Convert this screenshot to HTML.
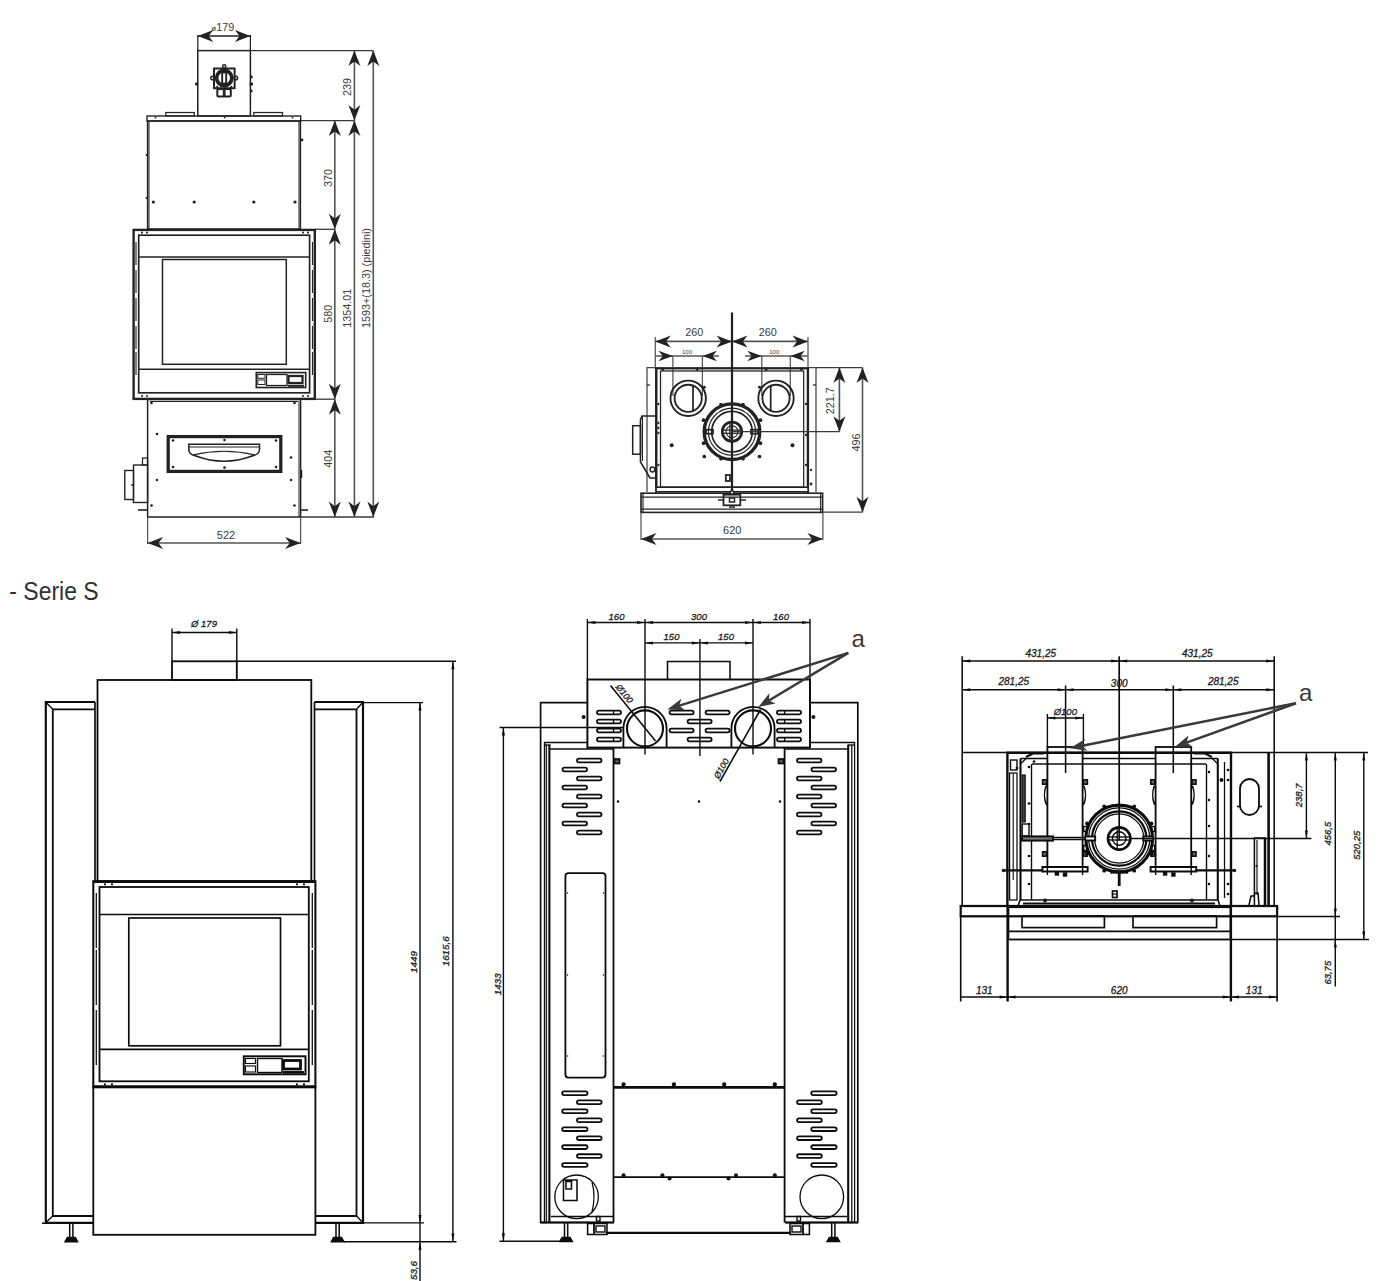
<!DOCTYPE html>
<html><head><meta charset="utf-8"><title>Serie S</title>
<style>
html,body{margin:0;padding:0;background:#fff;}
body{width:1400px;height:1281px;overflow:hidden;position:relative;font-family:"Liberation Sans",sans-serif;}
svg{position:absolute;left:0;top:0;display:block;}
</style></head><body>
<svg width="1400" height="1281" viewBox="0 0 1400 1281">
<rect x="0" y="0" width="1400" height="1281" fill="#ffffff"/>
<rect x="197.80" y="50.60" width="52.60" height="65.40" rx="0" fill="none" stroke="#222" stroke-width="1.5"/>
<line x1="197.80" y1="35.00" x2="197.80" y2="50.60" stroke="#222" stroke-width="1.25" />
<line x1="250.40" y1="35.00" x2="250.40" y2="50.60" stroke="#222" stroke-width="1.25" />
<line x1="197.80" y1="36.00" x2="250.40" y2="36.00" stroke="#222" stroke-width="1.5" />
<polygon points="197.80,36.00 213.30,30.00 208.65,36.00 213.30,42.00" fill="#222"/>
<polygon points="250.40,36.00 234.90,42.00 239.55,36.00 234.90,30.00" fill="#222"/>
<text x="222.80" y="30.50" font-family="'Liberation Sans', sans-serif" font-size="10.8" fill="#3a3a3a" text-anchor="middle" ><tspan font-size="8">ø</tspan>179</text>
<rect x="214.00" y="68.50" width="20.60" height="19.70" rx="0" fill="none" stroke="#222" stroke-width="2.0"/>
<circle cx="224.20" cy="78.00" r="7.60" fill="none" stroke="#222" stroke-width="3.62"/>
<rect x="222.20" y="72.50" width="4.00" height="11.00" rx="0" fill="none" stroke="#222" stroke-width="1.88"/>
<circle cx="224.20" cy="66.30" r="1.60" fill="none" stroke="#222" stroke-width="1.5"/>
<circle cx="212.60" cy="78.00" r="1.80" fill="none" stroke="#222" stroke-width="1.5"/>
<circle cx="235.80" cy="78.00" r="1.80" fill="none" stroke="#222" stroke-width="1.5"/>
<rect x="217.30" y="89.00" width="13.50" height="7.60" rx="1.5" fill="none" stroke="#222" stroke-width="2.0"/>
<line x1="224.20" y1="88.20" x2="224.20" y2="96.60" stroke="#222" stroke-width="2.75" />
<path d="M216.5,86 L219.5,90 M231.9,86 L228.9,90" fill="none" stroke="#222" stroke-width="1.5" />
<circle cx="196.60" cy="84.00" r="1.72" fill="#222"/>
<circle cx="251.30" cy="77.00" r="1.49" fill="#222"/>
<circle cx="251.30" cy="84.00" r="1.84" fill="#222"/>
<circle cx="251.30" cy="91.00" r="1.38" fill="#222"/>
<line x1="250.40" y1="50.60" x2="373.30" y2="50.60" stroke="#3a3a3a" stroke-width="1.31" />
<line x1="300.70" y1="120.60" x2="354.40" y2="120.60" stroke="#3a3a3a" stroke-width="1.31" />
<line x1="315.00" y1="229.30" x2="334.80" y2="229.30" stroke="#3a3a3a" stroke-width="1.31" />
<line x1="315.00" y1="399.20" x2="334.80" y2="399.20" stroke="#3a3a3a" stroke-width="1.31" />
<line x1="300.70" y1="517.00" x2="374.00" y2="517.00" stroke="#3a3a3a" stroke-width="1.31" />
<rect x="147.00" y="116.00" width="153.70" height="5.00" rx="0" fill="none" stroke="#222" stroke-width="1.38"/>
<rect x="147.60" y="121.00" width="152.80" height="108.00" rx="0" fill="none" stroke="#222" stroke-width="1.5"/>
<line x1="149.00" y1="121.00" x2="149.00" y2="229.00" stroke="#222" stroke-width="1.0" />
<line x1="299.00" y1="121.00" x2="299.00" y2="229.00" stroke="#222" stroke-width="1.0" />
<rect x="165.80" y="112.50" width="28.50" height="3.50" rx="0" fill="none" stroke="#222" stroke-width="1.25"/>
<rect x="253.80" y="112.50" width="28.70" height="3.50" rx="0" fill="none" stroke="#222" stroke-width="1.25"/>
<circle cx="153.30" cy="202.00" r="1.61" fill="#222"/>
<circle cx="194.20" cy="202.00" r="1.61" fill="#222"/>
<circle cx="253.80" cy="202.00" r="1.61" fill="#222"/>
<circle cx="295.00" cy="202.00" r="1.61" fill="#222"/>
<circle cx="155.50" cy="117.60" r="0.92" fill="#222"/>
<circle cx="224.60" cy="117.60" r="0.92" fill="#222"/>
<circle cx="292.50" cy="117.60" r="0.92" fill="#222"/>
<circle cx="302.00" cy="140.00" r="1.38" fill="#222"/>
<circle cx="146.50" cy="155.00" r="0.92" fill="#222"/>
<circle cx="146.50" cy="198.00" r="0.92" fill="#222"/>
<rect x="133.60" y="229.90" width="181.20" height="169.00" rx="0" fill="none" stroke="#222" stroke-width="2.38"/>
<rect x="138.70" y="235.20" width="170.90" height="157.60" rx="0" fill="none" stroke="#222" stroke-width="1.69"/>
<line x1="138.80" y1="257.00" x2="309.50" y2="257.00" stroke="#222" stroke-width="1.38" />
<rect x="162.50" y="259.50" width="123.80" height="104.80" rx="0" fill="none" stroke="#222" stroke-width="1.5"/>
<line x1="138.80" y1="369.30" x2="309.50" y2="369.30" stroke="#222" stroke-width="1.38" />
<line x1="136.00" y1="242.00" x2="136.00" y2="265.00" stroke="#222" stroke-width="1.12" />
<line x1="312.50" y1="242.00" x2="312.50" y2="265.00" stroke="#222" stroke-width="1.12" />
<line x1="136.00" y1="270.00" x2="136.00" y2="293.00" stroke="#222" stroke-width="1.12" />
<line x1="312.50" y1="270.00" x2="312.50" y2="293.00" stroke="#222" stroke-width="1.12" />
<line x1="136.00" y1="298.00" x2="136.00" y2="321.00" stroke="#222" stroke-width="1.12" />
<line x1="312.50" y1="298.00" x2="312.50" y2="321.00" stroke="#222" stroke-width="1.12" />
<line x1="136.00" y1="326.00" x2="136.00" y2="349.00" stroke="#222" stroke-width="1.12" />
<line x1="312.50" y1="326.00" x2="312.50" y2="349.00" stroke="#222" stroke-width="1.12" />
<line x1="136.00" y1="352.00" x2="136.00" y2="375.00" stroke="#222" stroke-width="1.12" />
<line x1="312.50" y1="352.00" x2="312.50" y2="375.00" stroke="#222" stroke-width="1.12" />
<circle cx="142.00" cy="232.60" r="1.03" fill="#222"/>
<circle cx="142.00" cy="396.00" r="1.03" fill="#222"/>
<circle cx="147.00" cy="232.60" r="1.03" fill="#222"/>
<circle cx="147.00" cy="396.00" r="1.03" fill="#222"/>
<circle cx="303.00" cy="232.60" r="1.03" fill="#222"/>
<circle cx="303.00" cy="396.00" r="1.03" fill="#222"/>
<circle cx="308.00" cy="232.60" r="1.03" fill="#222"/>
<circle cx="308.00" cy="396.00" r="1.03" fill="#222"/>
<rect x="256.30" y="372.60" width="49.40" height="14.90" rx="0" fill="none" stroke="#222" stroke-width="1.62"/>
<rect x="266.50" y="374.50" width="20.50" height="11.00" rx="0" fill="none" stroke="#222" stroke-width="1.25"/>
<rect x="288.50" y="376.00" width="14.00" height="7.00" rx="0" fill="none" stroke="#222" stroke-width="2.25"/>
<line x1="288.00" y1="385.80" x2="304.00" y2="385.80" stroke="#222" stroke-width="2.0" />
<rect x="257.80" y="374.50" width="7.20" height="3.80" rx="0" fill="none" stroke="#222" stroke-width="1.0"/>
<rect x="257.80" y="380.00" width="7.20" height="4.50" rx="0" fill="none" stroke="#222" stroke-width="1.0"/>
<rect x="147.60" y="399.50" width="153.00" height="117.50" rx="0" fill="none" stroke="#222" stroke-width="1.5"/>
<line x1="150.00" y1="401.50" x2="298.00" y2="401.50" stroke="#222" stroke-width="1.0" />
<line x1="299.00" y1="401.00" x2="299.00" y2="517.00" stroke="#222" stroke-width="1.0" />
<rect x="168.20" y="436.60" width="112.60" height="34.80" rx="0" fill="none" stroke="#222" stroke-width="3.25"/>
<path d="M188.8,444.3 H259.5 V450 Q259,454.5 252,456 Q224,466.5 196,456 Q189,454.5 188.8,450 Z" fill="none" stroke="#222" stroke-width="1.5" />
<line x1="188.80" y1="447.00" x2="259.50" y2="447.00" stroke="#222" stroke-width="1.12" />
<path d="M193,455 Q224,447.5 255,455" fill="none" stroke="#222" stroke-width="1.12" />
<circle cx="157.00" cy="434.00" r="1.32" fill="#222"/>
<circle cx="157.00" cy="480.00" r="1.32" fill="#222"/>
<circle cx="291.00" cy="457.50" r="1.32" fill="#222"/>
<circle cx="291.00" cy="480.00" r="1.32" fill="#222"/>
<circle cx="151.50" cy="403.00" r="1.32" fill="#222"/>
<circle cx="151.50" cy="505.50" r="1.32" fill="#222"/>
<circle cx="294.50" cy="403.00" r="1.32" fill="#222"/>
<circle cx="294.50" cy="505.50" r="1.32" fill="#222"/>
<circle cx="173.00" cy="440.50" r="1.32" fill="#222"/>
<circle cx="173.00" cy="467.00" r="1.32" fill="#222"/>
<circle cx="276.00" cy="440.50" r="1.32" fill="#222"/>
<circle cx="276.00" cy="467.00" r="1.32" fill="#222"/>
<circle cx="224.50" cy="440.00" r="1.32" fill="#222"/>
<circle cx="224.50" cy="467.60" r="1.32" fill="#222"/>
<rect x="124.80" y="470.50" width="8.70" height="29.00" rx="0" fill="none" stroke="#222" stroke-width="1.38"/>
<rect x="133.50" y="465.00" width="14.10" height="37.50" rx="0" fill="none" stroke="#222" stroke-width="1.38"/>
<rect x="142.50" y="458.00" width="5.10" height="7.00" rx="0" fill="none" stroke="#222" stroke-width="1.25"/>
<circle cx="132.00" cy="485.00" r="0.92" fill="#222"/>
<line x1="138.00" y1="510.00" x2="147.60" y2="510.00" stroke="#222" stroke-width="1.62" />
<line x1="300.60" y1="510.00" x2="308.00" y2="510.00" stroke="#222" stroke-width="1.62" />
<line x1="301.50" y1="470.00" x2="301.50" y2="478.00" stroke="#222" stroke-width="1.5" />
<line x1="334.80" y1="229.30" x2="334.80" y2="399.20" stroke="#555" stroke-width="1.62" />
<polygon points="334.80,229.30 340.80,244.80 334.80,240.15 328.80,244.80" fill="#222"/>
<polygon points="334.80,399.20 328.80,383.70 334.80,388.35 340.80,383.70" fill="#222"/>
<line x1="334.80" y1="399.20" x2="334.80" y2="517.00" stroke="#555" stroke-width="1.62" />
<polygon points="334.80,399.20 340.80,414.70 334.80,410.05 328.80,414.70" fill="#222"/>
<polygon points="334.80,517.00 328.80,501.50 334.80,506.15 340.80,501.50" fill="#222"/>
<line x1="334.80" y1="120.60" x2="334.80" y2="229.30" stroke="#555" stroke-width="1.62" />
<polygon points="334.80,120.60 340.80,136.10 334.80,131.45 328.80,136.10" fill="#222"/>
<polygon points="334.80,229.30 328.80,213.80 334.80,218.45 340.80,213.80" fill="#222"/>
<line x1="354.40" y1="50.60" x2="354.40" y2="120.60" stroke="#555" stroke-width="1.62" />
<polygon points="354.40,50.60 360.40,66.10 354.40,61.45 348.40,66.10" fill="#222"/>
<polygon points="354.40,120.60 348.40,105.10 354.40,109.75 360.40,105.10" fill="#222"/>
<line x1="354.40" y1="120.60" x2="354.40" y2="517.00" stroke="#555" stroke-width="1.62" />
<polygon points="354.40,120.60 360.40,136.10 354.40,131.45 348.40,136.10" fill="#222"/>
<polygon points="354.40,517.00 348.40,501.50 354.40,506.15 360.40,501.50" fill="#222"/>
<line x1="373.30" y1="50.60" x2="373.30" y2="517.00" stroke="#555" stroke-width="1.62" />
<polygon points="373.30,50.60 379.30,66.10 373.30,61.45 367.30,66.10" fill="#222"/>
<polygon points="373.30,517.00 367.30,501.50 373.30,506.15 379.30,501.50" fill="#222"/>
<text x="351.30" y="87.00" font-family="'Liberation Sans', sans-serif" font-size="10.8" fill="#3a3a3a" text-anchor="middle" transform="rotate(-90 351.30 87.00)" >239</text>
<text x="331.60" y="178.00" font-family="'Liberation Sans', sans-serif" font-size="10.8" fill="#3a3a3a" text-anchor="middle" transform="rotate(-90 331.60 178.00)" >370</text>
<text x="331.60" y="313.80" font-family="'Liberation Sans', sans-serif" font-size="10.8" fill="#3a3a3a" text-anchor="middle" transform="rotate(-90 331.60 313.80)" >580</text>
<text x="331.60" y="458.80" font-family="'Liberation Sans', sans-serif" font-size="10.8" fill="#3a3a3a" text-anchor="middle" transform="rotate(-90 331.60 458.80)" >404</text>
<text x="351.30" y="308.20" font-family="'Liberation Sans', sans-serif" font-size="10.8" fill="#3a3a3a" text-anchor="middle" transform="rotate(-90 351.30 308.20)" >1354.01</text>
<text x="369.80" y="278.00" font-family="'Liberation Sans', sans-serif" font-size="10.8" fill="#3a3a3a" text-anchor="middle" transform="rotate(-90 369.80 278.00)" >1593+(18.3) (piedini)</text>
<line x1="147.60" y1="517.00" x2="147.60" y2="544.00" stroke="#555" stroke-width="1.25" />
<line x1="300.60" y1="517.00" x2="300.60" y2="544.00" stroke="#555" stroke-width="1.25" />
<line x1="147.60" y1="543.00" x2="300.60" y2="543.00" stroke="#555" stroke-width="1.62" />
<polygon points="147.60,543.00 163.10,537.00 158.45,543.00 163.10,549.00" fill="#222"/>
<polygon points="300.60,543.00 285.10,549.00 289.75,543.00 285.10,537.00" fill="#222"/>
<text x="226.00" y="538.80" font-family="'Liberation Sans', sans-serif" font-size="11" fill="#3a3a3a" text-anchor="middle" >522</text>
<line x1="655.30" y1="337.00" x2="655.30" y2="369.00" stroke="#555" stroke-width="1.25" />
<line x1="808.00" y1="337.00" x2="808.00" y2="369.00" stroke="#555" stroke-width="1.25" />
<line x1="655.30" y1="341.40" x2="808.00" y2="341.40" stroke="#555" stroke-width="1.62" />
<polygon points="655.30,341.40 670.80,335.40 666.15,341.40 670.80,347.40" fill="#222"/>
<polygon points="732.00,341.40 716.50,347.40 721.15,341.40 716.50,335.40" fill="#222"/>
<polygon points="732.00,341.40 747.50,335.40 742.85,341.40 747.50,347.40" fill="#222"/>
<polygon points="808.00,341.40 792.50,347.40 797.15,341.40 792.50,335.40" fill="#222"/>
<text x="694.30" y="335.50" font-family="'Liberation Sans', sans-serif" font-size="10.8" fill="#3a3a3a" text-anchor="middle" >260</text>
<text x="767.80" y="335.50" font-family="'Liberation Sans', sans-serif" font-size="10.8" fill="#3a3a3a" text-anchor="middle" >260</text>
<line x1="672.90" y1="356.10" x2="672.90" y2="396.00" stroke="#555" stroke-width="1.25" />
<line x1="702.40" y1="356.10" x2="702.40" y2="396.00" stroke="#555" stroke-width="1.25" />
<line x1="761.80" y1="356.10" x2="761.80" y2="396.00" stroke="#555" stroke-width="1.25" />
<line x1="790.30" y1="356.10" x2="790.30" y2="396.00" stroke="#555" stroke-width="1.25" />
<line x1="655.30" y1="356.10" x2="719.00" y2="356.10" stroke="#555" stroke-width="1.5" />
<line x1="745.00" y1="356.10" x2="808.00" y2="356.10" stroke="#555" stroke-width="1.5" />
<polygon points="672.90,356.10 658.40,361.35 662.75,356.10 658.40,350.85" fill="#222"/>
<polygon points="702.40,356.10 716.90,350.85 712.55,356.10 716.90,361.35" fill="#222"/>
<polygon points="761.80,356.10 747.30,361.35 751.65,356.10 747.30,350.85" fill="#222"/>
<polygon points="790.30,356.10 804.80,350.85 800.45,356.10 804.80,361.35" fill="#222"/>
<text x="687.00" y="354.00" font-family="'Liberation Sans', sans-serif" font-size="6" fill="#3a3a3a" text-anchor="middle" >100</text>
<text x="774.30" y="354.00" font-family="'Liberation Sans', sans-serif" font-size="6" fill="#3a3a3a" text-anchor="middle" >100</text>
<path d="M647,492 V367.5 H816 V492" fill="none" stroke="#444" stroke-width="1.25" />
<line x1="647.00" y1="385.00" x2="650.00" y2="385.00" stroke="#222" stroke-width="1.25" />
<line x1="816.00" y1="385.00" x2="813.00" y2="385.00" stroke="#222" stroke-width="1.25" />
<rect x="656.00" y="368.60" width="152.20" height="118.60" rx="0" fill="none" stroke="#222" stroke-width="1.62"/>
<line x1="656.30" y1="368.60" x2="656.30" y2="487.20" stroke="#222" stroke-width="2.38" />
<line x1="807.90" y1="368.60" x2="807.90" y2="487.20" stroke="#222" stroke-width="2.38" />
<rect x="660.50" y="371.00" width="143.20" height="116.20" rx="0" fill="none" stroke="#222" stroke-width="1.25"/>
<line x1="656.00" y1="491.70" x2="808.20" y2="491.70" stroke="#222" stroke-width="1.5" />
<line x1="656.00" y1="487.20" x2="656.00" y2="493.00" stroke="#222" stroke-width="1.75" />
<line x1="808.20" y1="487.20" x2="808.20" y2="493.00" stroke="#222" stroke-width="1.75" />
<circle cx="662.70" cy="369.60" r="1.38" fill="#222"/>
<circle cx="697.20" cy="369.60" r="1.38" fill="#222"/>
<circle cx="766.20" cy="369.60" r="1.38" fill="#222"/>
<circle cx="801.50" cy="369.60" r="1.38" fill="#222"/>
<circle cx="658.30" cy="404.00" r="1.15" fill="#222"/>
<circle cx="658.30" cy="423.00" r="1.15" fill="#222"/>
<circle cx="658.30" cy="428.00" r="1.15" fill="#222"/>
<circle cx="658.30" cy="433.00" r="1.15" fill="#222"/>
<circle cx="658.30" cy="465.00" r="1.15" fill="#222"/>
<circle cx="806.00" cy="404.00" r="1.15" fill="#222"/>
<circle cx="806.00" cy="435.00" r="1.15" fill="#222"/>
<circle cx="806.00" cy="465.00" r="1.15" fill="#222"/>
<circle cx="811.00" cy="470.00" r="1.15" fill="#222"/>
<circle cx="811.00" cy="484.00" r="1.38" fill="#222"/>
<rect x="641.00" y="493.20" width="181.60" height="19.20" rx="0" fill="none" stroke="#222" stroke-width="1.62"/>
<line x1="641.00" y1="497.00" x2="822.60" y2="497.00" stroke="#222" stroke-width="1.25" />
<line x1="641.00" y1="509.00" x2="822.60" y2="509.00" stroke="#222" stroke-width="1.25" />
<line x1="643.00" y1="493.20" x2="643.00" y2="512.40" stroke="#222" stroke-width="1.12" />
<line x1="820.60" y1="493.20" x2="820.60" y2="512.40" stroke="#222" stroke-width="1.12" />
<circle cx="688.20" cy="398.30" r="17.70" fill="none" stroke="#222" stroke-width="1.88"/>
<circle cx="688.20" cy="398.30" r="13.60" fill="none" stroke="#222" stroke-width="1.88"/>
<line x1="693.00" y1="385.50" x2="693.00" y2="411.20" stroke="#222" stroke-width="1.75" />
<circle cx="776.00" cy="398.30" r="17.70" fill="none" stroke="#222" stroke-width="1.88"/>
<circle cx="776.00" cy="398.30" r="13.60" fill="none" stroke="#222" stroke-width="1.88"/>
<line x1="770.70" y1="385.50" x2="770.70" y2="411.20" stroke="#222" stroke-width="1.75" />
<circle cx="704.30" cy="387.20" r="1.49" fill="#222"/>
<circle cx="759.50" cy="387.20" r="1.49" fill="#222"/>
<circle cx="671.70" cy="445.20" r="1.95" fill="#222"/>
<circle cx="792.50" cy="445.20" r="1.95" fill="#222"/>
<circle cx="704.30" cy="456.50" r="1.84" fill="#222"/>
<circle cx="759.50" cy="456.50" r="1.84" fill="#222"/>
<circle cx="732.00" cy="431.70" r="27.80" fill="none" stroke="#222" stroke-width="3.38"/>
<circle cx="732.00" cy="431.70" r="23.60" fill="none" stroke="#222" stroke-width="1.12"/>
<circle cx="732.00" cy="431.70" r="20.30" fill="none" stroke="#222" stroke-width="1.62"/>
<circle cx="732.00" cy="431.70" r="9.70" fill="none" stroke="#222" stroke-width="2.75"/>
<circle cx="732.00" cy="431.70" r="6.00" fill="none" stroke="#222" stroke-width="1.12"/>
<line x1="723.00" y1="430.10" x2="741.00" y2="430.10" stroke="#222" stroke-width="1.25" />
<line x1="723.00" y1="433.30" x2="741.00" y2="433.30" stroke="#222" stroke-width="1.25" />
<line x1="730.00" y1="422.70" x2="730.00" y2="440.70" stroke="#222" stroke-width="1.25" />
<circle cx="721.00" cy="404.70" r="1.84" fill="#222"/>
<circle cx="721.00" cy="458.70" r="1.84" fill="#222"/>
<circle cx="743.00" cy="404.70" r="1.84" fill="#222"/>
<circle cx="743.00" cy="458.70" r="1.84" fill="#222"/>
<circle cx="703.50" cy="420.20" r="1.84" fill="#222"/>
<circle cx="703.50" cy="443.20" r="1.84" fill="#222"/>
<circle cx="760.50" cy="420.20" r="1.84" fill="#222"/>
<circle cx="760.50" cy="443.20" r="1.84" fill="#222"/>
<rect x="706.00" y="429.70" width="7.00" height="4.00" rx="0" fill="none" stroke="#222" stroke-width="1.75"/>
<rect x="751.00" y="429.70" width="7.00" height="4.00" rx="0" fill="none" stroke="#222" stroke-width="1.75"/>
<line x1="732.00" y1="312.50" x2="732.00" y2="492.00" stroke="#222" stroke-width="2.25" />
<circle cx="732.00" cy="492.50" r="1.80" fill="#fff" stroke="#222" stroke-width="1.5"/>
<rect x="723.50" y="494.70" width="16.80" height="10.60" rx="0" fill="none" stroke="#222" stroke-width="1.75"/>
<rect x="729.50" y="498.00" width="5.00" height="4.00" rx="0" fill="none" stroke="#222" stroke-width="1.5"/>
<line x1="718.00" y1="500.00" x2="723.50" y2="500.00" stroke="#222" stroke-width="1.5" />
<line x1="740.30" y1="500.00" x2="746.00" y2="500.00" stroke="#222" stroke-width="1.5" />
<line x1="729.00" y1="507.00" x2="735.00" y2="507.00" stroke="#222" stroke-width="1.5" />
<rect x="725.80" y="475.00" width="4.20" height="6.00" rx="0" fill="none" stroke="#222" stroke-width="1.75"/>
<path d="M656,416 H642 L640.5,420 V462 L650,478 H656" fill="none" stroke="#222" stroke-width="1.62" />
<rect x="632.70" y="425.70" width="7.80" height="28.50" rx="0" fill="none" stroke="#222" stroke-width="1.5"/>
<circle cx="652.50" cy="469.50" r="2.40" fill="none" stroke="#222" stroke-width="1.5"/>
<line x1="642.50" y1="417.00" x2="642.50" y2="461.00" stroke="#222" stroke-width="1.0" />
<line x1="816.00" y1="367.60" x2="862.50" y2="367.60" stroke="#3a3a3a" stroke-width="1.31" />
<line x1="732.00" y1="431.70" x2="839.40" y2="431.70" stroke="#3a3a3a" stroke-width="1.31" />
<line x1="822.60" y1="512.20" x2="862.50" y2="512.20" stroke="#3a3a3a" stroke-width="1.31" />
<line x1="839.40" y1="367.60" x2="839.40" y2="431.70" stroke="#555" stroke-width="1.62" />
<polygon points="839.40,367.60 845.40,383.10 839.40,378.45 833.40,383.10" fill="#222"/>
<polygon points="839.40,431.70 833.40,416.20 839.40,420.85 845.40,416.20" fill="#222"/>
<line x1="862.50" y1="367.60" x2="862.50" y2="512.20" stroke="#555" stroke-width="1.62" />
<polygon points="862.50,367.60 868.50,383.10 862.50,378.45 856.50,383.10" fill="#222"/>
<polygon points="862.50,512.20 856.50,496.70 862.50,501.35 868.50,496.70" fill="#222"/>
<text x="834.30" y="400.70" font-family="'Liberation Sans', sans-serif" font-size="10.8" fill="#3a3a3a" text-anchor="middle" transform="rotate(-90 834.30 400.70)" >221.7</text>
<text x="859.80" y="442.50" font-family="'Liberation Sans', sans-serif" font-size="10.8" fill="#3a3a3a" text-anchor="middle" transform="rotate(-90 859.80 442.50)" >496</text>
<line x1="641.00" y1="512.40" x2="641.00" y2="540.00" stroke="#555" stroke-width="1.25" />
<line x1="822.90" y1="512.40" x2="822.90" y2="540.00" stroke="#555" stroke-width="1.25" />
<line x1="641.00" y1="539.00" x2="822.90" y2="539.00" stroke="#555" stroke-width="1.62" />
<polygon points="641.00,539.00 656.50,533.00 651.85,539.00 656.50,545.00" fill="#222"/>
<polygon points="822.90,539.00 807.40,545.00 812.05,539.00 807.40,533.00" fill="#222"/>
<text x="732.30" y="534.20" font-family="'Liberation Sans', sans-serif" font-size="11" fill="#3a3a3a" text-anchor="middle" >620</text>
<text x="9.30" y="599.60" font-family="'Liberation Sans', sans-serif" font-size="26.3" fill="#303036" text-anchor="start" textLength="89.3" lengthAdjust="spacingAndGlyphs">- Serie S</text>
<rect x="172.00" y="661.30" width="64.80" height="18.70" rx="0" fill="none" stroke="#0c0c0c" stroke-width="1.82"/>
<line x1="172.00" y1="628.50" x2="172.00" y2="661.30" stroke="#0c0c0c" stroke-width="1.4" />
<line x1="236.80" y1="628.50" x2="236.80" y2="661.30" stroke="#0c0c0c" stroke-width="1.4" />
<line x1="172.00" y1="632.50" x2="236.80" y2="632.50" stroke="#0c0c0c" stroke-width="1.4" />
<polygon points="172.00,632.50 180.00,631.00 180.00,632.50 180.00,634.00" fill="#0c0c0c"/>
<polygon points="236.80,632.50 228.80,634.00 228.80,632.50 228.80,631.00" fill="#0c0c0c"/>
<text x="204.00" y="627.00" font-family="'Liberation Sans', sans-serif" font-size="9.5" fill="#1c1c1c" text-anchor="middle" font-style="italic" stroke="#1c1c1c" stroke-width="0.3" >Ø 179</text>
<line x1="236.80" y1="661.30" x2="456.00" y2="661.30" stroke="#0c0c0c" stroke-width="1.4" />
<rect x="97.50" y="680.00" width="213.80" height="201.30" rx="0" fill="none" stroke="#0c0c0c" stroke-width="1.82"/>
<path d="M95,702 H45.8 V1222.8 H93.3" fill="none" stroke="#0c0c0c" stroke-width="2.17" />
<path d="M95,709.3 H52.8 V1216 H93.3" fill="none" stroke="#0c0c0c" stroke-width="1.82" />
<line x1="45.60" y1="702.00" x2="52.80" y2="709.30" stroke="#0c0c0c" stroke-width="1.4" />
<line x1="45.60" y1="1222.80" x2="52.80" y2="1216.00" stroke="#0c0c0c" stroke-width="1.4" />
<line x1="95.00" y1="702.00" x2="95.00" y2="881.00" stroke="#0c0c0c" stroke-width="1.68" />
<path d="M314.5,702 H363 V1222.8 H315.5" fill="none" stroke="#0c0c0c" stroke-width="2.17" />
<path d="M314.5,709.3 H356.5 V1216 H315.5" fill="none" stroke="#0c0c0c" stroke-width="1.82" />
<line x1="363.20" y1="702.00" x2="356.50" y2="709.30" stroke="#0c0c0c" stroke-width="1.4" />
<line x1="363.20" y1="1222.80" x2="356.50" y2="1216.00" stroke="#0c0c0c" stroke-width="1.4" />
<line x1="314.50" y1="702.00" x2="314.50" y2="881.00" stroke="#0c0c0c" stroke-width="1.68" />
<rect x="93.30" y="881.30" width="222.10" height="205.90" rx="0" fill="none" stroke="#0c0c0c" stroke-width="2.03"/>
<rect x="99.50" y="887.00" width="209.30" height="194.30" rx="0" fill="none" stroke="#0c0c0c" stroke-width="1.82"/>
<line x1="93.30" y1="881.60" x2="315.40" y2="881.60" stroke="#0c0c0c" stroke-width="2.8" />
<line x1="93.30" y1="1086.60" x2="315.40" y2="1086.60" stroke="#0c0c0c" stroke-width="2.8" />
<line x1="99.50" y1="914.50" x2="308.80" y2="914.50" stroke="#0c0c0c" stroke-width="1.68" />
<rect x="128.80" y="918.00" width="151.70" height="127.80" rx="0" fill="none" stroke="#0c0c0c" stroke-width="1.68"/>
<line x1="99.50" y1="1049.30" x2="308.80" y2="1049.30" stroke="#0c0c0c" stroke-width="1.68" />
<line x1="96.30" y1="893.00" x2="96.30" y2="948.00" stroke="#0c0c0c" stroke-width="1.26" />
<line x1="312.30" y1="893.00" x2="312.30" y2="948.00" stroke="#0c0c0c" stroke-width="1.26" />
<line x1="96.30" y1="950.00" x2="96.30" y2="1005.00" stroke="#0c0c0c" stroke-width="1.26" />
<line x1="312.30" y1="950.00" x2="312.30" y2="1005.00" stroke="#0c0c0c" stroke-width="1.26" />
<line x1="96.30" y1="1010.00" x2="96.30" y2="1065.00" stroke="#0c0c0c" stroke-width="1.26" />
<line x1="312.30" y1="1010.00" x2="312.30" y2="1065.00" stroke="#0c0c0c" stroke-width="1.26" />
<circle cx="105.00" cy="884.30" r="1.12" fill="#0c0c0c"/>
<circle cx="105.00" cy="1084.30" r="1.12" fill="#0c0c0c"/>
<circle cx="112.00" cy="884.30" r="1.12" fill="#0c0c0c"/>
<circle cx="112.00" cy="1084.30" r="1.12" fill="#0c0c0c"/>
<circle cx="297.00" cy="884.30" r="1.12" fill="#0c0c0c"/>
<circle cx="297.00" cy="1084.30" r="1.12" fill="#0c0c0c"/>
<circle cx="304.00" cy="884.30" r="1.12" fill="#0c0c0c"/>
<circle cx="304.00" cy="1084.30" r="1.12" fill="#0c0c0c"/>
<rect x="243.80" y="1056.30" width="61.70" height="18.00" rx="0" fill="none" stroke="#0c0c0c" stroke-width="1.96"/>
<rect x="257.50" y="1058.50" width="24.50" height="14.00" rx="0" fill="none" stroke="#0c0c0c" stroke-width="1.4"/>
<rect x="283.50" y="1060.50" width="17.00" height="8.50" rx="0" fill="none" stroke="#0c0c0c" stroke-width="2.8"/>
<line x1="283.00" y1="1072.30" x2="304.00" y2="1072.30" stroke="#0c0c0c" stroke-width="2.52" />
<rect x="245.50" y="1058.50" width="10.00" height="5.00" rx="0" fill="none" stroke="#0c0c0c" stroke-width="1.12"/>
<rect x="245.50" y="1066.00" width="10.00" height="6.00" rx="0" fill="none" stroke="#0c0c0c" stroke-width="1.12"/>
<rect x="93.30" y="1087.20" width="222.10" height="147.60" rx="0" fill="none" stroke="#0c0c0c" stroke-width="1.82"/>
<line x1="69.70" y1="1223.00" x2="69.70" y2="1237.00" stroke="#0c0c0c" stroke-width="1.54" />
<line x1="72.90" y1="1223.00" x2="72.90" y2="1237.00" stroke="#0c0c0c" stroke-width="1.54" />
<path d="M65.0,1241.8 H77.6 L75.3,1237.5 H67.3 Z" fill="#0c0c0c" stroke="#0c0c0c" stroke-width="1.4" />
<line x1="336.00" y1="1223.00" x2="336.00" y2="1237.00" stroke="#0c0c0c" stroke-width="1.54" />
<line x1="339.20" y1="1223.00" x2="339.20" y2="1237.00" stroke="#0c0c0c" stroke-width="1.54" />
<path d="M331.3,1241.8 H343.90000000000003 L341.6,1237.5 H333.6 Z" fill="#0c0c0c" stroke="#0c0c0c" stroke-width="1.4" />
<line x1="42.00" y1="1223.30" x2="93.00" y2="1223.30" stroke="#0c0c0c" stroke-width="1.4" />
<line x1="363.20" y1="702.60" x2="423.00" y2="702.60" stroke="#0c0c0c" stroke-width="1.4" />
<line x1="363.20" y1="1222.90" x2="424.00" y2="1222.90" stroke="#0c0c0c" stroke-width="1.4" />
<line x1="344.00" y1="1241.80" x2="456.50" y2="1241.80" stroke="#0c0c0c" stroke-width="1.4" />
<line x1="420.00" y1="702.60" x2="420.00" y2="1222.90" stroke="#0c0c0c" stroke-width="1.4" />
<polygon points="420.00,702.60 421.50,710.60 420.00,710.60 418.50,710.60" fill="#0c0c0c"/>
<polygon points="420.00,1222.90 418.50,1214.90 420.00,1214.90 421.50,1214.90" fill="#0c0c0c"/>
<line x1="452.90" y1="661.30" x2="452.90" y2="1241.60" stroke="#0c0c0c" stroke-width="1.4" />
<polygon points="452.90,661.30 454.40,669.30 452.90,669.30 451.40,669.30" fill="#0c0c0c"/>
<polygon points="452.90,1241.60 451.40,1233.60 452.90,1233.60 454.40,1233.60" fill="#0c0c0c"/>
<text x="417.30" y="962.00" font-family="'Liberation Sans', sans-serif" font-size="9.8" fill="#1c1c1c" text-anchor="middle" font-style="italic" stroke="#1c1c1c" stroke-width="0.3" transform="rotate(-90 417.30 962.00)" >1449</text>
<text x="449.20" y="951.30" font-family="'Liberation Sans', sans-serif" font-size="9.8" fill="#1c1c1c" text-anchor="middle" font-style="italic" stroke="#1c1c1c" stroke-width="0.3" transform="rotate(-90 449.20 951.30)" >1615,6</text>
<line x1="420.00" y1="1222.90" x2="420.00" y2="1281.00" stroke="#0c0c0c" stroke-width="1.4" />
<polygon points="420.00,1241.80 421.50,1249.80 420.00,1249.80 418.50,1249.80" fill="#0c0c0c"/>
<text x="417.10" y="1270.50" font-family="'Liberation Sans', sans-serif" font-size="9.8" fill="#1c1c1c" text-anchor="middle" font-style="italic" stroke="#1c1c1c" stroke-width="0.3" transform="rotate(-90 417.10 1270.50)" >53,6</text>
<line x1="587.40" y1="619.00" x2="587.40" y2="679.50" stroke="#0c0c0c" stroke-width="1.4" />
<line x1="645.00" y1="619.00" x2="645.00" y2="754.50" stroke="#0c0c0c" stroke-width="1.4" />
<line x1="753.00" y1="619.00" x2="753.00" y2="754.50" stroke="#0c0c0c" stroke-width="1.4" />
<line x1="810.00" y1="619.00" x2="810.00" y2="679.50" stroke="#0c0c0c" stroke-width="1.4" />
<line x1="699.90" y1="639.00" x2="699.90" y2="756.00" stroke="#0c0c0c" stroke-width="1.4" />
<line x1="587.40" y1="622.50" x2="645.00" y2="622.50" stroke="#0c0c0c" stroke-width="1.4" />
<polygon points="587.40,622.50 595.40,621.00 595.40,622.50 595.40,624.00" fill="#0c0c0c"/>
<polygon points="645.00,622.50 637.00,624.00 637.00,622.50 637.00,621.00" fill="#0c0c0c"/>
<line x1="645.00" y1="622.50" x2="753.00" y2="622.50" stroke="#0c0c0c" stroke-width="1.4" />
<polygon points="645.00,622.50 653.00,621.00 653.00,622.50 653.00,624.00" fill="#0c0c0c"/>
<polygon points="753.00,622.50 745.00,624.00 745.00,622.50 745.00,621.00" fill="#0c0c0c"/>
<line x1="753.00" y1="622.50" x2="810.00" y2="622.50" stroke="#0c0c0c" stroke-width="1.4" />
<polygon points="753.00,622.50 761.00,621.00 761.00,622.50 761.00,624.00" fill="#0c0c0c"/>
<polygon points="810.00,622.50 802.00,624.00 802.00,622.50 802.00,621.00" fill="#0c0c0c"/>
<line x1="645.00" y1="642.90" x2="699.90" y2="642.90" stroke="#0c0c0c" stroke-width="1.4" />
<polygon points="645.00,642.90 653.00,641.40 653.00,642.90 653.00,644.40" fill="#0c0c0c"/>
<polygon points="699.90,642.90 691.90,644.40 691.90,642.90 691.90,641.40" fill="#0c0c0c"/>
<line x1="699.90" y1="642.90" x2="753.00" y2="642.90" stroke="#0c0c0c" stroke-width="1.4" />
<polygon points="699.90,642.90 707.90,641.40 707.90,642.90 707.90,644.40" fill="#0c0c0c"/>
<polygon points="753.00,642.90 745.00,644.40 745.00,642.90 745.00,641.40" fill="#0c0c0c"/>
<text x="616.50" y="620.00" font-family="'Liberation Sans', sans-serif" font-size="9.5" fill="#1c1c1c" text-anchor="middle" font-style="italic" stroke="#1c1c1c" stroke-width="0.3" >160</text>
<text x="699.00" y="620.00" font-family="'Liberation Sans', sans-serif" font-size="9.5" fill="#1c1c1c" text-anchor="middle" font-style="italic" stroke="#1c1c1c" stroke-width="0.3" >300</text>
<text x="781.00" y="620.00" font-family="'Liberation Sans', sans-serif" font-size="9.5" fill="#1c1c1c" text-anchor="middle" font-style="italic" stroke="#1c1c1c" stroke-width="0.3" >160</text>
<text x="671.50" y="640.00" font-family="'Liberation Sans', sans-serif" font-size="9.5" fill="#1c1c1c" text-anchor="middle" font-style="italic" stroke="#1c1c1c" stroke-width="0.3" >150</text>
<text x="726.00" y="640.00" font-family="'Liberation Sans', sans-serif" font-size="9.5" fill="#1c1c1c" text-anchor="middle" font-style="italic" stroke="#1c1c1c" stroke-width="0.3" >150</text>
<path d="M667.5,679.5 V661.5 H730 V679.5" fill="none" stroke="#0c0c0c" stroke-width="1.54" />
<rect x="587.40" y="679.50" width="222.60" height="68.10" rx="0" fill="none" stroke="#0c0c0c" stroke-width="1.96"/>
<path d="M587.4,702.6 H540.6 V1222.5 H614" fill="none" stroke="#0c0c0c" stroke-width="1.68" />
<path d="M810,702.6 H857.8 V1222.5 H785" fill="none" stroke="#0c0c0c" stroke-width="1.68" />
<path d="M587.4,742.5 H544.6 V1222.5" fill="none" stroke="#0c0c0c" stroke-width="1.54" />
<path d="M810,742.5 H854.6 V1222.5" fill="none" stroke="#0c0c0c" stroke-width="1.26" />
<line x1="549.40" y1="745.00" x2="549.40" y2="1222.50" stroke="#0c0c0c" stroke-width="2.1" />
<line x1="546.60" y1="745.00" x2="546.60" y2="1222.50" stroke="#0c0c0c" stroke-width="0.98" />
<line x1="851.80" y1="745.00" x2="851.80" y2="1222.50" stroke="#0c0c0c" stroke-width="1.26" />
<line x1="848.20" y1="745.00" x2="848.20" y2="1222.50" stroke="#0c0c0c" stroke-width="2.1" />
<line x1="544.60" y1="745.00" x2="550.60" y2="745.00" stroke="#0c0c0c" stroke-width="1.4" />
<line x1="847.60" y1="745.00" x2="854.60" y2="745.00" stroke="#0c0c0c" stroke-width="1.4" />
<line x1="549.40" y1="749.00" x2="613.00" y2="749.00" stroke="#0c0c0c" stroke-width="1.68" />
<line x1="784.60" y1="749.00" x2="848.20" y2="749.00" stroke="#0c0c0c" stroke-width="1.68" />
<line x1="613.50" y1="747.60" x2="613.50" y2="1222.50" stroke="#0c0c0c" stroke-width="1.82" />
<line x1="784.60" y1="747.60" x2="784.60" y2="1222.50" stroke="#0c0c0c" stroke-width="1.82" />
<circle cx="645.00" cy="728.40" r="18.00" fill="none" stroke="#0c0c0c" stroke-width="2.1"/>
<path d="M623.4,747.6 V728.4 A21.6,21.6 0 0 1 666.6,728.4 V747.6" fill="none" stroke="#0c0c0c" stroke-width="1.82" />
<circle cx="753.00" cy="728.40" r="18.00" fill="none" stroke="#0c0c0c" stroke-width="2.1"/>
<path d="M731.4,747.6 V728.4 A21.6,21.6 0 0 1 774.6,728.4 V747.6" fill="none" stroke="#0c0c0c" stroke-width="1.82" />
<rect x="597.00" y="710.65" width="24.00" height="3.70" rx="1.85" fill="none" stroke="#0c0c0c" stroke-width="1.82"/>
<rect x="777.00" y="710.65" width="24.00" height="3.70" rx="1.85" fill="none" stroke="#0c0c0c" stroke-width="1.82"/>
<line x1="613.50" y1="710.70" x2="613.50" y2="714.30" stroke="#0c0c0c" stroke-width="1.4" />
<line x1="784.60" y1="710.70" x2="784.60" y2="714.30" stroke="#0c0c0c" stroke-width="1.4" />
<rect x="597.00" y="719.65" width="24.00" height="3.70" rx="1.85" fill="none" stroke="#0c0c0c" stroke-width="1.82"/>
<rect x="777.00" y="719.65" width="24.00" height="3.70" rx="1.85" fill="none" stroke="#0c0c0c" stroke-width="1.82"/>
<line x1="613.50" y1="719.70" x2="613.50" y2="723.30" stroke="#0c0c0c" stroke-width="1.4" />
<line x1="784.60" y1="719.70" x2="784.60" y2="723.30" stroke="#0c0c0c" stroke-width="1.4" />
<rect x="597.00" y="728.65" width="24.00" height="3.70" rx="1.85" fill="none" stroke="#0c0c0c" stroke-width="1.82"/>
<rect x="777.00" y="728.65" width="24.00" height="3.70" rx="1.85" fill="none" stroke="#0c0c0c" stroke-width="1.82"/>
<line x1="613.50" y1="728.70" x2="613.50" y2="732.30" stroke="#0c0c0c" stroke-width="1.4" />
<line x1="784.60" y1="728.70" x2="784.60" y2="732.30" stroke="#0c0c0c" stroke-width="1.4" />
<rect x="597.00" y="737.65" width="24.00" height="3.70" rx="1.85" fill="none" stroke="#0c0c0c" stroke-width="1.82"/>
<rect x="777.00" y="737.65" width="24.00" height="3.70" rx="1.85" fill="none" stroke="#0c0c0c" stroke-width="1.82"/>
<line x1="613.50" y1="737.70" x2="613.50" y2="741.30" stroke="#0c0c0c" stroke-width="1.4" />
<line x1="784.60" y1="737.70" x2="784.60" y2="741.30" stroke="#0c0c0c" stroke-width="1.4" />
<rect x="669.60" y="710.65" width="24.00" height="3.70" rx="1.85" fill="none" stroke="#0c0c0c" stroke-width="1.82"/>
<rect x="705.60" y="710.65" width="24.00" height="3.70" rx="1.85" fill="none" stroke="#0c0c0c" stroke-width="1.82"/>
<rect x="687.60" y="719.65" width="24.00" height="3.70" rx="1.85" fill="none" stroke="#0c0c0c" stroke-width="1.82"/>
<rect x="669.60" y="728.65" width="24.00" height="3.70" rx="1.85" fill="none" stroke="#0c0c0c" stroke-width="1.82"/>
<rect x="705.60" y="728.65" width="24.00" height="3.70" rx="1.85" fill="none" stroke="#0c0c0c" stroke-width="1.82"/>
<rect x="687.60" y="737.65" width="24.00" height="3.70" rx="1.85" fill="none" stroke="#0c0c0c" stroke-width="1.82"/>
<circle cx="583.60" cy="717.00" r="1.98" fill="#0c0c0c"/>
<circle cx="813.40" cy="717.00" r="1.98" fill="#0c0c0c"/>
<rect x="614.50" y="759.00" width="5.00" height="4.50" rx="0" fill="#555" stroke="#0c0c0c" stroke-width="1.68"/>
<rect x="778.50" y="759.00" width="5.00" height="4.50" rx="0" fill="#555" stroke="#0c0c0c" stroke-width="1.68"/>
<line x1="499.50" y1="727.50" x2="623.00" y2="727.50" stroke="#0c0c0c" stroke-width="1.4" />
<rect x="577.00" y="758.65" width="24.50" height="3.70" rx="1.85" fill="none" stroke="#0c0c0c" stroke-width="1.82"/>
<rect x="797.00" y="758.65" width="24.50" height="3.70" rx="1.85" fill="none" stroke="#0c0c0c" stroke-width="1.82"/>
<rect x="562.50" y="767.65" width="24.50" height="3.70" rx="1.85" fill="none" stroke="#0c0c0c" stroke-width="1.82"/>
<rect x="811.50" y="767.65" width="24.50" height="3.70" rx="1.85" fill="none" stroke="#0c0c0c" stroke-width="1.82"/>
<rect x="577.00" y="776.65" width="24.50" height="3.70" rx="1.85" fill="none" stroke="#0c0c0c" stroke-width="1.82"/>
<rect x="797.00" y="776.65" width="24.50" height="3.70" rx="1.85" fill="none" stroke="#0c0c0c" stroke-width="1.82"/>
<rect x="562.50" y="785.65" width="24.50" height="3.70" rx="1.85" fill="none" stroke="#0c0c0c" stroke-width="1.82"/>
<rect x="811.50" y="785.65" width="24.50" height="3.70" rx="1.85" fill="none" stroke="#0c0c0c" stroke-width="1.82"/>
<rect x="577.00" y="794.65" width="24.50" height="3.70" rx="1.85" fill="none" stroke="#0c0c0c" stroke-width="1.82"/>
<rect x="797.00" y="794.65" width="24.50" height="3.70" rx="1.85" fill="none" stroke="#0c0c0c" stroke-width="1.82"/>
<rect x="562.50" y="803.65" width="24.50" height="3.70" rx="1.85" fill="none" stroke="#0c0c0c" stroke-width="1.82"/>
<rect x="811.50" y="803.65" width="24.50" height="3.70" rx="1.85" fill="none" stroke="#0c0c0c" stroke-width="1.82"/>
<rect x="577.00" y="812.65" width="24.50" height="3.70" rx="1.85" fill="none" stroke="#0c0c0c" stroke-width="1.82"/>
<rect x="797.00" y="812.65" width="24.50" height="3.70" rx="1.85" fill="none" stroke="#0c0c0c" stroke-width="1.82"/>
<rect x="562.50" y="821.65" width="24.50" height="3.70" rx="1.85" fill="none" stroke="#0c0c0c" stroke-width="1.82"/>
<rect x="811.50" y="821.65" width="24.50" height="3.70" rx="1.85" fill="none" stroke="#0c0c0c" stroke-width="1.82"/>
<rect x="577.00" y="830.65" width="24.50" height="3.70" rx="1.85" fill="none" stroke="#0c0c0c" stroke-width="1.82"/>
<rect x="797.00" y="830.65" width="24.50" height="3.70" rx="1.85" fill="none" stroke="#0c0c0c" stroke-width="1.82"/>
<circle cx="618.00" cy="801.60" r="1.24" fill="#0c0c0c"/>
<circle cx="699.00" cy="801.60" r="1.24" fill="#0c0c0c"/>
<circle cx="780.00" cy="801.60" r="1.24" fill="#0c0c0c"/>
<line x1="610.50" y1="685.50" x2="655.50" y2="741.00" stroke="#0c0c0c" stroke-width="1.54" />
<line x1="760.50" y1="709.50" x2="720.00" y2="781.50" stroke="#0c0c0c" stroke-width="1.54" />
<text x="622.00" y="695.50" font-family="'Liberation Sans', sans-serif" font-size="8.8" fill="#1c1c1c" text-anchor="middle" font-style="italic" stroke="#1c1c1c" stroke-width="0.3" transform="rotate(51 622.00 695.50)" >Ø100</text>
<text x="724.00" y="770.00" font-family="'Liberation Sans', sans-serif" font-size="8.8" fill="#1c1c1c" text-anchor="middle" font-style="italic" stroke="#1c1c1c" stroke-width="0.3" transform="rotate(-60.6 724.00 770.00)" >Ø100</text>
<rect x="565.40" y="873.10" width="40.10" height="204.50" rx="3" fill="none" stroke="#0c0c0c" stroke-width="1.82"/>
<circle cx="567.50" cy="893.00" r="0.74" fill="#0c0c0c"/>
<circle cx="603.50" cy="893.00" r="0.74" fill="#0c0c0c"/>
<circle cx="567.50" cy="975.00" r="0.74" fill="#0c0c0c"/>
<circle cx="603.50" cy="975.00" r="0.74" fill="#0c0c0c"/>
<circle cx="567.50" cy="1056.00" r="0.74" fill="#0c0c0c"/>
<circle cx="603.50" cy="1056.00" r="0.74" fill="#0c0c0c"/>
<line x1="613.50" y1="1087.40" x2="784.60" y2="1087.40" stroke="#0c0c0c" stroke-width="2.8" />
<circle cx="623.60" cy="1084.40" r="2.11" fill="#0c0c0c"/>
<circle cx="673.90" cy="1084.40" r="2.11" fill="#0c0c0c"/>
<circle cx="724.20" cy="1084.40" r="2.11" fill="#0c0c0c"/>
<circle cx="774.80" cy="1084.40" r="2.11" fill="#0c0c0c"/>
<line x1="613.50" y1="1177.10" x2="784.60" y2="1177.10" stroke="#0c0c0c" stroke-width="1.68" />
<circle cx="623.60" cy="1175.20" r="1.98" fill="#0c0c0c"/>
<circle cx="662.40" cy="1175.20" r="1.98" fill="#0c0c0c"/>
<circle cx="736.00" cy="1175.20" r="1.98" fill="#0c0c0c"/>
<circle cx="774.80" cy="1175.20" r="1.98" fill="#0c0c0c"/>
<circle cx="669.60" cy="1178.60" r="1.98" fill="#0c0c0c"/>
<circle cx="728.50" cy="1178.60" r="1.98" fill="#0c0c0c"/>
<rect x="562.20" y="1091.45" width="25.30" height="3.70" rx="1.85" fill="none" stroke="#0c0c0c" stroke-width="1.82"/>
<rect x="811.30" y="1091.45" width="25.30" height="3.70" rx="1.85" fill="none" stroke="#0c0c0c" stroke-width="1.82"/>
<rect x="577.00" y="1100.42" width="24.60" height="3.70" rx="1.85" fill="none" stroke="#0c0c0c" stroke-width="1.82"/>
<rect x="797.10" y="1100.42" width="24.70" height="3.70" rx="1.85" fill="none" stroke="#0c0c0c" stroke-width="1.82"/>
<rect x="562.20" y="1109.39" width="25.30" height="3.70" rx="1.85" fill="none" stroke="#0c0c0c" stroke-width="1.82"/>
<rect x="811.30" y="1109.39" width="25.30" height="3.70" rx="1.85" fill="none" stroke="#0c0c0c" stroke-width="1.82"/>
<rect x="577.00" y="1118.36" width="24.60" height="3.70" rx="1.85" fill="none" stroke="#0c0c0c" stroke-width="1.82"/>
<rect x="797.10" y="1118.36" width="24.70" height="3.70" rx="1.85" fill="none" stroke="#0c0c0c" stroke-width="1.82"/>
<rect x="562.20" y="1127.33" width="25.30" height="3.70" rx="1.85" fill="none" stroke="#0c0c0c" stroke-width="1.82"/>
<rect x="811.30" y="1127.33" width="25.30" height="3.70" rx="1.85" fill="none" stroke="#0c0c0c" stroke-width="1.82"/>
<rect x="577.00" y="1136.30" width="24.60" height="3.70" rx="1.85" fill="none" stroke="#0c0c0c" stroke-width="1.82"/>
<rect x="797.10" y="1136.30" width="24.70" height="3.70" rx="1.85" fill="none" stroke="#0c0c0c" stroke-width="1.82"/>
<rect x="562.20" y="1145.27" width="25.30" height="3.70" rx="1.85" fill="none" stroke="#0c0c0c" stroke-width="1.82"/>
<rect x="811.30" y="1145.27" width="25.30" height="3.70" rx="1.85" fill="none" stroke="#0c0c0c" stroke-width="1.82"/>
<rect x="577.00" y="1154.24" width="24.60" height="3.70" rx="1.85" fill="none" stroke="#0c0c0c" stroke-width="1.82"/>
<rect x="797.10" y="1154.24" width="24.70" height="3.70" rx="1.85" fill="none" stroke="#0c0c0c" stroke-width="1.82"/>
<rect x="562.20" y="1163.21" width="25.30" height="3.70" rx="1.85" fill="none" stroke="#0c0c0c" stroke-width="1.82"/>
<rect x="811.30" y="1163.21" width="25.30" height="3.70" rx="1.85" fill="none" stroke="#0c0c0c" stroke-width="1.82"/>
<circle cx="576.60" cy="1196.80" r="21.80" fill="none" stroke="#0c0c0c" stroke-width="1.33"/>
<circle cx="821.80" cy="1196.80" r="21.80" fill="none" stroke="#0c0c0c" stroke-width="1.33"/>
<path d="M563.5,1180 H577 V1200.5 H563.5 Z M566,1181.5 H571.5 V1189 H566 Z" fill="none" stroke="#0c0c0c" stroke-width="1.54" />
<path d="M592,1182 Q596,1196 592,1212" fill="none" stroke="#0c0c0c" stroke-width="1.26" />
<line x1="540.60" y1="1222.50" x2="614.00" y2="1222.50" stroke="#0c0c0c" stroke-width="1.96" />
<line x1="785.00" y1="1222.50" x2="857.80" y2="1222.50" stroke="#0c0c0c" stroke-width="1.96" />
<line x1="551.00" y1="1216.50" x2="613.50" y2="1216.50" stroke="#0c0c0c" stroke-width="1.4" />
<line x1="784.60" y1="1216.50" x2="847.00" y2="1216.50" stroke="#0c0c0c" stroke-width="1.4" />
<line x1="606.00" y1="1232.80" x2="791.00" y2="1232.80" stroke="#0c0c0c" stroke-width="2.24" />
<rect x="587.60" y="1223.50" width="19.40" height="11.00" rx="0" fill="none" stroke="#0c0c0c" stroke-width="1.54"/>
<rect x="790.00" y="1223.50" width="19.40" height="11.00" rx="0" fill="none" stroke="#0c0c0c" stroke-width="1.54"/>
<rect x="596.00" y="1226.00" width="9.00" height="6.00" rx="0" fill="none" stroke="#0c0c0c" stroke-width="1.4"/>
<rect x="792.00" y="1226.00" width="9.00" height="6.00" rx="0" fill="none" stroke="#0c0c0c" stroke-width="1.4"/>
<line x1="594.00" y1="1223.50" x2="594.00" y2="1234.50" stroke="#0c0c0c" stroke-width="1.82" />
<line x1="803.00" y1="1223.50" x2="803.00" y2="1234.50" stroke="#0c0c0c" stroke-width="1.82" />
<rect x="596.50" y="1216.50" width="3.50" height="4.50" rx="0" fill="none" stroke="#0c0c0c" stroke-width="1.4"/>
<rect x="797.00" y="1216.50" width="3.50" height="4.50" rx="0" fill="none" stroke="#0c0c0c" stroke-width="1.4"/>
<line x1="564.50" y1="1222.50" x2="564.50" y2="1237.00" stroke="#0c0c0c" stroke-width="1.54" />
<line x1="567.70" y1="1222.50" x2="567.70" y2="1237.00" stroke="#0c0c0c" stroke-width="1.54" />
<path d="M559.8000000000001,1241.6 H572.4 L570.1,1237.5 H562.1 Z" fill="#0c0c0c" stroke="#0c0c0c" stroke-width="1.4" />
<line x1="831.70" y1="1222.50" x2="831.70" y2="1237.00" stroke="#0c0c0c" stroke-width="1.54" />
<line x1="834.90" y1="1222.50" x2="834.90" y2="1237.00" stroke="#0c0c0c" stroke-width="1.54" />
<path d="M827.0,1241.6 H839.5999999999999 L837.3,1237.5 H829.3 Z" fill="#0c0c0c" stroke="#0c0c0c" stroke-width="1.4" />
<line x1="503.40" y1="727.50" x2="503.40" y2="1241.30" stroke="#0c0c0c" stroke-width="1.4" />
<polygon points="503.40,727.50 504.90,735.50 503.40,735.50 501.90,735.50" fill="#0c0c0c"/>
<polygon points="503.40,1241.30 501.90,1233.30 503.40,1233.30 504.90,1233.30" fill="#0c0c0c"/>
<line x1="499.50" y1="1241.30" x2="560.00" y2="1241.30" stroke="#0c0c0c" stroke-width="1.4" />
<text x="501.30" y="984.30" font-family="'Liberation Sans', sans-serif" font-size="9.8" fill="#1c1c1c" text-anchor="middle" font-style="italic" stroke="#1c1c1c" stroke-width="0.3" transform="rotate(-90 501.30 984.30)" >1433</text>
<text x="858.20" y="646.90" font-family="'Liberation Sans', sans-serif" font-size="24" fill="#3a3a3a" text-anchor="middle" >a</text>
<line x1="848.30" y1="652.90" x2="676.95" y2="706.42" stroke="#3a3a3a" stroke-width="2.52" />
<polygon points="667.40,709.40 681.36,698.75 679.21,705.71 684.94,710.21" fill="#3a3a3a"/>
<line x1="848.30" y1="652.90" x2="766.87" y2="701.76" stroke="#3a3a3a" stroke-width="2.52" />
<polygon points="758.30,706.90 769.36,693.27 768.91,700.53 775.54,703.56" fill="#3a3a3a"/>
<line x1="962.20" y1="656.30" x2="962.20" y2="906.00" stroke="#0c0c0c" stroke-width="1.54" />
<line x1="1274.20" y1="656.30" x2="1274.20" y2="906.00" stroke="#0c0c0c" stroke-width="1.54" />
<line x1="1119.20" y1="656.30" x2="1119.20" y2="840.50" stroke="#0c0c0c" stroke-width="1.68" />
<line x1="1065.60" y1="685.50" x2="1065.60" y2="773.00" stroke="#0c0c0c" stroke-width="1.54" />
<line x1="1173.30" y1="685.50" x2="1173.30" y2="773.00" stroke="#0c0c0c" stroke-width="1.54" />
<line x1="962.20" y1="661.00" x2="1119.20" y2="661.00" stroke="#0c0c0c" stroke-width="1.4" />
<polygon points="962.20,661.00 970.20,659.50 970.20,661.00 970.20,662.50" fill="#0c0c0c"/>
<polygon points="1119.20,661.00 1111.20,662.50 1111.20,661.00 1111.20,659.50" fill="#0c0c0c"/>
<line x1="1119.20" y1="661.00" x2="1274.20" y2="661.00" stroke="#0c0c0c" stroke-width="1.4" />
<polygon points="1119.20,661.00 1127.20,659.50 1127.20,661.00 1127.20,662.50" fill="#0c0c0c"/>
<polygon points="1274.20,661.00 1266.20,662.50 1266.20,661.00 1266.20,659.50" fill="#0c0c0c"/>
<line x1="962.20" y1="689.70" x2="1065.60" y2="689.70" stroke="#0c0c0c" stroke-width="1.4" />
<polygon points="962.20,689.70 970.20,688.20 970.20,689.70 970.20,691.20" fill="#0c0c0c"/>
<polygon points="1065.60,689.70 1057.60,691.20 1057.60,689.70 1057.60,688.20" fill="#0c0c0c"/>
<line x1="1065.60" y1="689.70" x2="1173.30" y2="689.70" stroke="#0c0c0c" stroke-width="1.4" />
<polygon points="1065.60,689.70 1073.60,688.20 1073.60,689.70 1073.60,691.20" fill="#0c0c0c"/>
<polygon points="1173.30,689.70 1165.30,691.20 1165.30,689.70 1165.30,688.20" fill="#0c0c0c"/>
<line x1="1173.30" y1="689.70" x2="1274.20" y2="689.70" stroke="#0c0c0c" stroke-width="1.4" />
<polygon points="1173.30,689.70 1181.30,688.20 1181.30,689.70 1181.30,691.20" fill="#0c0c0c"/>
<polygon points="1274.20,689.70 1266.20,691.20 1266.20,689.70 1266.20,688.20" fill="#0c0c0c"/>
<text x="1040.80" y="657.20" font-family="'Liberation Sans', sans-serif" font-size="10" fill="#1c1c1c" text-anchor="middle" font-style="italic" stroke="#1c1c1c" stroke-width="0.3" >431,25</text>
<text x="1197.30" y="657.20" font-family="'Liberation Sans', sans-serif" font-size="10" fill="#1c1c1c" text-anchor="middle" font-style="italic" stroke="#1c1c1c" stroke-width="0.3" >431,25</text>
<text x="1013.80" y="685.00" font-family="'Liberation Sans', sans-serif" font-size="10" fill="#1c1c1c" text-anchor="middle" font-style="italic" stroke="#1c1c1c" stroke-width="0.3" >281,25</text>
<text x="1223.20" y="685.00" font-family="'Liberation Sans', sans-serif" font-size="10" fill="#1c1c1c" text-anchor="middle" font-style="italic" stroke="#1c1c1c" stroke-width="0.3" >281,25</text>
<text x="1119.20" y="687.20" font-family="'Liberation Sans', sans-serif" font-size="10" fill="#1c1c1c" text-anchor="middle" font-style="italic" stroke="#1c1c1c" stroke-width="0.3" >300</text>
<line x1="1047.40" y1="714.00" x2="1047.40" y2="747.00" stroke="#0c0c0c" stroke-width="1.4" />
<line x1="1083.40" y1="714.00" x2="1083.40" y2="747.00" stroke="#0c0c0c" stroke-width="1.4" />
<line x1="1047.40" y1="718.00" x2="1083.40" y2="718.00" stroke="#0c0c0c" stroke-width="1.4" />
<polygon points="1047.40,718.00 1055.40,716.50 1055.40,718.00 1055.40,719.50" fill="#0c0c0c"/>
<polygon points="1083.40,718.00 1075.40,719.50 1075.40,718.00 1075.40,716.50" fill="#0c0c0c"/>
<text x="1065.30" y="715.00" font-family="'Liberation Sans', sans-serif" font-size="9.5" fill="#1c1c1c" text-anchor="middle" font-style="italic" stroke="#1c1c1c" stroke-width="0.3" >Ø100</text>
<line x1="962.20" y1="752.60" x2="1368.00" y2="752.60" stroke="#0c0c0c" stroke-width="1.54" />
<line x1="1268.60" y1="752.60" x2="1268.60" y2="906.00" stroke="#0c0c0c" stroke-width="2.59" />
<rect x="960.70" y="906.00" width="316.40" height="10.30" rx="0" fill="none" stroke="#0c0c0c" stroke-width="2.24"/>
<path d="M1007.4,906 V752.8 H1231 V906" fill="none" stroke="#0c0c0c" stroke-width="2.38" />
<line x1="1020.50" y1="758.50" x2="1020.50" y2="900.00" stroke="#0c0c0c" stroke-width="2.1" />
<line x1="1217.80" y1="758.50" x2="1217.80" y2="900.00" stroke="#0c0c0c" stroke-width="2.1" />
<line x1="1020.50" y1="758.50" x2="1047.40" y2="758.50" stroke="#0c0c0c" stroke-width="1.54" />
<line x1="1082.60" y1="758.50" x2="1155.60" y2="758.50" stroke="#0c0c0c" stroke-width="1.54" />
<line x1="1191.20" y1="758.50" x2="1217.80" y2="758.50" stroke="#0c0c0c" stroke-width="1.54" />
<line x1="1032.00" y1="764.00" x2="1206.00" y2="764.00" stroke="#0c0c0c" stroke-width="1.4" />
<line x1="1031.50" y1="764.00" x2="1031.50" y2="900.00" stroke="#0c0c0c" stroke-width="1.4" />
<line x1="1206.50" y1="764.00" x2="1206.50" y2="900.00" stroke="#0c0c0c" stroke-width="1.4" />
<path d="M1020.5,764 L1026,758.5 M1217.8,764 L1212.3,758.5" fill="none" stroke="#0c0c0c" stroke-width="1.26" />
<path d="M1026,757 L1033,753.5 H1044 M1212,757 L1205,753.5 H1194" fill="none" stroke="#0c0c0c" stroke-width="2.1" />
<rect x="1009.60" y="773.00" width="7.40" height="127.00" rx="0" fill="none" stroke="#0c0c0c" stroke-width="1.26"/>
<line x1="1013.20" y1="773.00" x2="1013.20" y2="880.00" stroke="#0c0c0c" stroke-width="1.12" />
<rect x="1022.20" y="775.00" width="3.00" height="47.00" rx="0" fill="#444" stroke="#0c0c0c" stroke-width="1.12"/>
<rect x="1022.20" y="824.00" width="6.80" height="12.00" rx="0" fill="none" stroke="#0c0c0c" stroke-width="1.4"/>
<rect x="1010.50" y="760.00" width="6.50" height="10.00" rx="0" fill="none" stroke="#0c0c0c" stroke-width="1.4"/>
<path d="M1224.5,762 V898" fill="none" stroke="#0c0c0c" stroke-width="1.26" />
<circle cx="1034.00" cy="761.50" r="1.36" fill="#0c0c0c"/>
<circle cx="1017.00" cy="768.00" r="1.36" fill="#0c0c0c"/>
<circle cx="1029.00" cy="767.00" r="1.36" fill="#0c0c0c"/>
<circle cx="1029.00" cy="803.50" r="1.36" fill="#0c0c0c"/>
<circle cx="1029.00" cy="824.00" r="1.36" fill="#0c0c0c"/>
<circle cx="1029.00" cy="856.00" r="1.36" fill="#0c0c0c"/>
<circle cx="1029.00" cy="884.00" r="1.36" fill="#0c0c0c"/>
<circle cx="1209.00" cy="772.00" r="1.24" fill="#0c0c0c"/>
<circle cx="1209.00" cy="800.00" r="1.24" fill="#0c0c0c"/>
<circle cx="1209.00" cy="826.00" r="1.24" fill="#0c0c0c"/>
<circle cx="1209.00" cy="856.00" r="1.24" fill="#0c0c0c"/>
<circle cx="1209.00" cy="884.00" r="1.24" fill="#0c0c0c"/>
<circle cx="1228.00" cy="770.00" r="1.36" fill="#0c0c0c"/>
<circle cx="1228.00" cy="780.00" r="1.36" fill="#0c0c0c"/>
<circle cx="1228.00" cy="884.00" r="1.36" fill="#0c0c0c"/>
<circle cx="1228.00" cy="894.00" r="1.36" fill="#0c0c0c"/>
<circle cx="1221.50" cy="780.00" r="1.98" fill="#0c0c0c"/>
<rect x="1047.40" y="747.00" width="35.20" height="120.00" rx="0" fill="none" stroke="#0c0c0c" stroke-width="1.82"/>
<path d="M1042.4,867 H1087.6 V871.5 H1042.4 Z" fill="none" stroke="#0c0c0c" stroke-width="1.96" />
<line x1="1047.40" y1="867.00" x2="1047.40" y2="875.00" stroke="#0c0c0c" stroke-width="1.4" />
<line x1="1082.60" y1="867.00" x2="1082.60" y2="875.00" stroke="#0c0c0c" stroke-width="1.4" />
<rect x="1042.60" y="779.80" width="4.00" height="4.40" rx="0" fill="#666" stroke="#0c0c0c" stroke-width="1.54"/>
<rect x="1083.40" y="779.80" width="4.00" height="4.40" rx="0" fill="#666" stroke="#0c0c0c" stroke-width="1.54"/>
<rect x="1042.60" y="851.80" width="4.00" height="4.40" rx="0" fill="#666" stroke="#0c0c0c" stroke-width="1.54"/>
<rect x="1083.40" y="851.80" width="4.00" height="4.40" rx="0" fill="#666" stroke="#0c0c0c" stroke-width="1.54"/>
<path d="M1047.4,784 Q1041.4,795 1047.4,806 M1045.9,786 Q1042.9,795 1045.9,804" fill="none" stroke="#0c0c0c" stroke-width="1.26" />
<path d="M1082.6,784 Q1088.6,795 1082.6,806 M1084.1,786 Q1087.1,795 1084.1,804" fill="none" stroke="#0c0c0c" stroke-width="1.26" />
<rect x="1063.50" y="873.00" width="3.00" height="3.00" rx="0" fill="#0c0c0c" stroke="#0c0c0c" stroke-width="1.4"/>
<rect x="1055.40" y="872.00" width="3.00" height="3.00" rx="0" fill="#0c0c0c" stroke="#0c0c0c" stroke-width="1.4"/>
<rect x="1155.60" y="747.00" width="35.60" height="120.00" rx="0" fill="none" stroke="#0c0c0c" stroke-width="1.82"/>
<path d="M1150.6,867 H1196.2 V871.5 H1150.6 Z" fill="none" stroke="#0c0c0c" stroke-width="1.96" />
<line x1="1155.60" y1="867.00" x2="1155.60" y2="875.00" stroke="#0c0c0c" stroke-width="1.4" />
<line x1="1191.20" y1="867.00" x2="1191.20" y2="875.00" stroke="#0c0c0c" stroke-width="1.4" />
<rect x="1150.80" y="779.80" width="4.00" height="4.40" rx="0" fill="#666" stroke="#0c0c0c" stroke-width="1.54"/>
<rect x="1192.00" y="779.80" width="4.00" height="4.40" rx="0" fill="#666" stroke="#0c0c0c" stroke-width="1.54"/>
<rect x="1150.80" y="851.80" width="4.00" height="4.40" rx="0" fill="#666" stroke="#0c0c0c" stroke-width="1.54"/>
<rect x="1192.00" y="851.80" width="4.00" height="4.40" rx="0" fill="#666" stroke="#0c0c0c" stroke-width="1.54"/>
<path d="M1155.6,784 Q1149.6,795 1155.6,806 M1154.1,786 Q1151.1,795 1154.1,804" fill="none" stroke="#0c0c0c" stroke-width="1.26" />
<path d="M1191.2,784 Q1197.2,795 1191.2,806 M1192.7,786 Q1195.7,795 1192.7,804" fill="none" stroke="#0c0c0c" stroke-width="1.26" />
<rect x="1171.90" y="873.00" width="3.00" height="3.00" rx="0" fill="#0c0c0c" stroke="#0c0c0c" stroke-width="1.4"/>
<rect x="1163.60" y="872.00" width="3.00" height="3.00" rx="0" fill="#0c0c0c" stroke="#0c0c0c" stroke-width="1.4"/>
<line x1="1003.00" y1="870.40" x2="1043.00" y2="870.40" stroke="#0c0c0c" stroke-width="2.24" />
<line x1="1196.00" y1="870.40" x2="1235.00" y2="870.40" stroke="#0c0c0c" stroke-width="2.24" />
<circle cx="1003.50" cy="870.40" r="1.74" fill="#0c0c0c"/>
<circle cx="1234.50" cy="870.40" r="1.74" fill="#0c0c0c"/>
<rect x="1022.00" y="836.40" width="31.00" height="4.20" rx="0" fill="#777" stroke="#0c0c0c" stroke-width="1.96"/>
<line x1="1053.00" y1="837.50" x2="1086.00" y2="837.50" stroke="#0c0c0c" stroke-width="1.26" />
<line x1="1053.00" y1="839.50" x2="1086.00" y2="839.50" stroke="#0c0c0c" stroke-width="1.26" />
<circle cx="1119.20" cy="838.50" r="33.40" fill="none" stroke="#0c0c0c" stroke-width="3.08"/>
<circle cx="1119.20" cy="838.50" r="30.60" fill="none" stroke="#0c0c0c" stroke-width="1.26"/>
<circle cx="1119.20" cy="838.50" r="27.20" fill="none" stroke="#0c0c0c" stroke-width="2.24"/>
<circle cx="1119.20" cy="838.50" r="24.60" fill="none" stroke="#0c0c0c" stroke-width="1.26"/>
<circle cx="1119.20" cy="838.50" r="11.20" fill="none" stroke="#0c0c0c" stroke-width="2.66"/>
<circle cx="1119.20" cy="838.50" r="6.80" fill="none" stroke="#0c0c0c" stroke-width="1.4"/>
<line x1="1108.20" y1="837.00" x2="1130.20" y2="837.00" stroke="#0c0c0c" stroke-width="1.4" />
<line x1="1108.20" y1="840.00" x2="1130.20" y2="840.00" stroke="#0c0c0c" stroke-width="1.4" />
<line x1="1117.20" y1="827.50" x2="1117.20" y2="849.50" stroke="#0c0c0c" stroke-width="1.26" />
<path d="M1086.2,836.5 H1095.2 V840.5 H1086.2 M1152.2,836.5 H1143.2 V840.5 H1152.2" fill="#fff" stroke="#0c0c0c" stroke-width="1.82" />
<circle cx="1104.15" cy="806.24" r="1.86" fill="#0c0c0c"/>
<circle cx="1134.25" cy="806.24" r="1.86" fill="#0c0c0c"/>
<circle cx="1086.94" cy="823.45" r="1.86" fill="#0c0c0c"/>
<circle cx="1151.46" cy="823.45" r="1.86" fill="#0c0c0c"/>
<circle cx="1151.46" cy="853.55" r="1.86" fill="#0c0c0c"/>
<circle cx="1086.94" cy="853.55" r="1.86" fill="#0c0c0c"/>
<circle cx="1134.25" cy="870.76" r="1.86" fill="#0c0c0c"/>
<circle cx="1104.15" cy="870.76" r="1.86" fill="#0c0c0c"/>
<rect x="1083.70" y="826.50" width="3.00" height="5.00" rx="0" fill="none" stroke="#0c0c0c" stroke-width="1.4"/>
<rect x="1083.70" y="845.50" width="3.00" height="5.00" rx="0" fill="none" stroke="#0c0c0c" stroke-width="1.4"/>
<rect x="1151.70" y="826.50" width="3.00" height="5.00" rx="0" fill="none" stroke="#0c0c0c" stroke-width="1.4"/>
<rect x="1151.70" y="845.50" width="3.00" height="5.00" rx="0" fill="none" stroke="#0c0c0c" stroke-width="1.4"/>
<line x1="1110.20" y1="872.50" x2="1128.20" y2="872.50" stroke="#0c0c0c" stroke-width="2.24" />
<line x1="1119.20" y1="873.00" x2="1119.20" y2="886.00" stroke="#0c0c0c" stroke-width="2.8" />
<rect x="1112.50" y="891.00" width="4.50" height="6.50" rx="0" fill="none" stroke="#0c0c0c" stroke-width="1.68"/>
<line x1="1112.50" y1="894.00" x2="1117.00" y2="894.00" stroke="#0c0c0c" stroke-width="1.12" />
<line x1="1130.20" y1="838.50" x2="1311.50" y2="838.50" stroke="#0c0c0c" stroke-width="1.54" />
<path d="M1020,900 H1218 L1220,906 M1020,900 L1018,906" fill="none" stroke="#0c0c0c" stroke-width="1.54" />
<line x1="1023.00" y1="903.50" x2="1215.00" y2="903.50" stroke="#0c0c0c" stroke-width="1.82" />
<circle cx="1045.00" cy="900.50" r="1.30" fill="none" stroke="#0c0c0c" stroke-width="1.26"/>
<circle cx="1192.00" cy="900.50" r="1.30" fill="none" stroke="#0c0c0c" stroke-width="1.26"/>
<rect x="1008.40" y="907.20" width="222.20" height="32.30" rx="0" fill="none" stroke="#0c0c0c" stroke-width="1.82"/>
<line x1="1008.40" y1="931.40" x2="1230.60" y2="931.40" stroke="#0c0c0c" stroke-width="1.68" />
<rect x="1022.00" y="916.00" width="82.40" height="11.60" rx="0" fill="none" stroke="#0c0c0c" stroke-width="1.68"/>
<rect x="1133.00" y="916.00" width="83.60" height="11.60" rx="0" fill="none" stroke="#0c0c0c" stroke-width="1.68"/>
<rect x="1240.00" y="779.00" width="19.00" height="36.00" rx="9.5" fill="none" stroke="#0c0c0c" stroke-width="1.82"/>
<line x1="1237.00" y1="806.50" x2="1240.00" y2="806.50" stroke="#0c0c0c" stroke-width="1.68" />
<line x1="1259.00" y1="806.50" x2="1262.00" y2="806.50" stroke="#0c0c0c" stroke-width="1.68" />
<path d="M1254.4,905 V838 H1266" fill="none" stroke="#0c0c0c" stroke-width="1.54" />
<line x1="1265.00" y1="838.00" x2="1265.00" y2="905.00" stroke="#0c0c0c" stroke-width="2.52" />
<line x1="1257.00" y1="840.00" x2="1257.00" y2="895.00" stroke="#0c0c0c" stroke-width="1.12" />
<path d="M1249,905 L1251,896 H1254 L1255,893 H1258 L1259,905" fill="none" stroke="#0c0c0c" stroke-width="1.54" />
<circle cx="1256.50" cy="866.00" r="1.12" fill="#0c0c0c"/>
<line x1="1231.00" y1="906.00" x2="1269.40" y2="906.00" stroke="#0c0c0c" stroke-width="1.68" />
<line x1="1276.80" y1="916.50" x2="1340.00" y2="916.50" stroke="#0c0c0c" stroke-width="1.54" />
<line x1="1230.60" y1="939.50" x2="1369.00" y2="939.50" stroke="#0c0c0c" stroke-width="1.54" />
<line x1="1306.40" y1="752.60" x2="1306.40" y2="838.50" stroke="#0c0c0c" stroke-width="1.4" />
<polygon points="1306.40,752.60 1307.90,760.60 1306.40,760.60 1304.90,760.60" fill="#0c0c0c"/>
<polygon points="1306.40,838.50 1304.90,830.50 1306.40,830.50 1307.90,830.50" fill="#0c0c0c"/>
<line x1="1335.30" y1="752.60" x2="1335.30" y2="916.50" stroke="#0c0c0c" stroke-width="1.4" />
<polygon points="1335.30,752.60 1336.80,760.60 1335.30,760.60 1333.80,760.60" fill="#0c0c0c"/>
<polygon points="1335.30,916.50 1333.80,908.50 1335.30,908.50 1336.80,908.50" fill="#0c0c0c"/>
<line x1="1363.80" y1="752.60" x2="1363.80" y2="939.50" stroke="#0c0c0c" stroke-width="1.4" />
<polygon points="1363.80,752.60 1365.30,760.60 1363.80,760.60 1362.30,760.60" fill="#0c0c0c"/>
<polygon points="1363.80,939.50 1362.30,931.50 1363.80,931.50 1365.30,931.50" fill="#0c0c0c"/>
<text x="1302.40" y="795.30" font-family="'Liberation Sans', sans-serif" font-size="9.5" fill="#1c1c1c" text-anchor="middle" font-style="italic" stroke="#1c1c1c" stroke-width="0.3" transform="rotate(-90 1302.40 795.30)" >238,7</text>
<text x="1331.40" y="833.70" font-family="'Liberation Sans', sans-serif" font-size="9.5" fill="#1c1c1c" text-anchor="middle" font-style="italic" stroke="#1c1c1c" stroke-width="0.3" transform="rotate(-90 1331.40 833.70)" >456,5</text>
<text x="1360.00" y="845.20" font-family="'Liberation Sans', sans-serif" font-size="9.5" fill="#1c1c1c" text-anchor="middle" font-style="italic" stroke="#1c1c1c" stroke-width="0.3" transform="rotate(-90 1360.00 845.20)" >520,25</text>
<line x1="1335.30" y1="916.50" x2="1335.30" y2="986.50" stroke="#0c0c0c" stroke-width="1.4" />
<polygon points="1335.30,939.50 1336.80,947.50 1335.30,947.50 1333.80,947.50" fill="#0c0c0c"/>
<text x="1331.40" y="972.70" font-family="'Liberation Sans', sans-serif" font-size="9.5" fill="#1c1c1c" text-anchor="middle" font-style="italic" stroke="#1c1c1c" stroke-width="0.3" transform="rotate(-90 1331.40 972.70)" >63,75</text>
<line x1="1007.60" y1="906.00" x2="1007.60" y2="1001.50" stroke="#0c0c0c" stroke-width="2.38" />
<line x1="1230.90" y1="906.00" x2="1230.90" y2="1001.50" stroke="#0c0c0c" stroke-width="2.38" />
<line x1="960.70" y1="916.50" x2="960.70" y2="1001.50" stroke="#0c0c0c" stroke-width="1.61" />
<line x1="1277.10" y1="916.50" x2="1277.10" y2="1001.50" stroke="#0c0c0c" stroke-width="1.61" />
<line x1="960.70" y1="997.00" x2="1277.10" y2="997.00" stroke="#0c0c0c" stroke-width="1.47" />
<polygon points="1007.60,997.00 999.60,998.50 999.60,997.00 999.60,995.50" fill="#0c0c0c"/>
<polygon points="1007.60,997.00 1015.60,995.50 1015.60,997.00 1015.60,998.50" fill="#0c0c0c"/>
<polygon points="1230.90,997.00 1222.90,998.50 1222.90,997.00 1222.90,995.50" fill="#0c0c0c"/>
<polygon points="1230.90,997.00 1238.90,995.50 1238.90,997.00 1238.90,998.50" fill="#0c0c0c"/>
<polygon points="1277.10,997.00 1269.10,998.50 1269.10,997.00 1269.10,995.50" fill="#0c0c0c"/>
<text x="984.30" y="994.20" font-family="'Liberation Sans', sans-serif" font-size="10" fill="#1c1c1c" text-anchor="middle" font-style="italic" stroke="#1c1c1c" stroke-width="0.3" >131</text>
<text x="1119.20" y="994.20" font-family="'Liberation Sans', sans-serif" font-size="10" fill="#1c1c1c" text-anchor="middle" font-style="italic" stroke="#1c1c1c" stroke-width="0.3" >620</text>
<text x="1254.20" y="994.20" font-family="'Liberation Sans', sans-serif" font-size="10" fill="#1c1c1c" text-anchor="middle" font-style="italic" stroke="#1c1c1c" stroke-width="0.3" >131</text>
<text x="1305.60" y="701.00" font-family="'Liberation Sans', sans-serif" font-size="24" fill="#3a3a3a" text-anchor="middle" >a</text>
<line x1="1296.00" y1="703.20" x2="1079.81" y2="746.25" stroke="#3a3a3a" stroke-width="2.52" />
<polygon points="1070.00,748.20 1085.01,739.09 1082.14,745.78 1087.35,750.86" fill="#3a3a3a"/>
<line x1="1296.00" y1="703.20" x2="1184.41" y2="743.32" stroke="#3a3a3a" stroke-width="2.52" />
<polygon points="1175.00,746.70 1188.50,735.47 1186.65,742.51 1192.56,746.76" fill="#3a3a3a"/>
</svg>
</body></html>
